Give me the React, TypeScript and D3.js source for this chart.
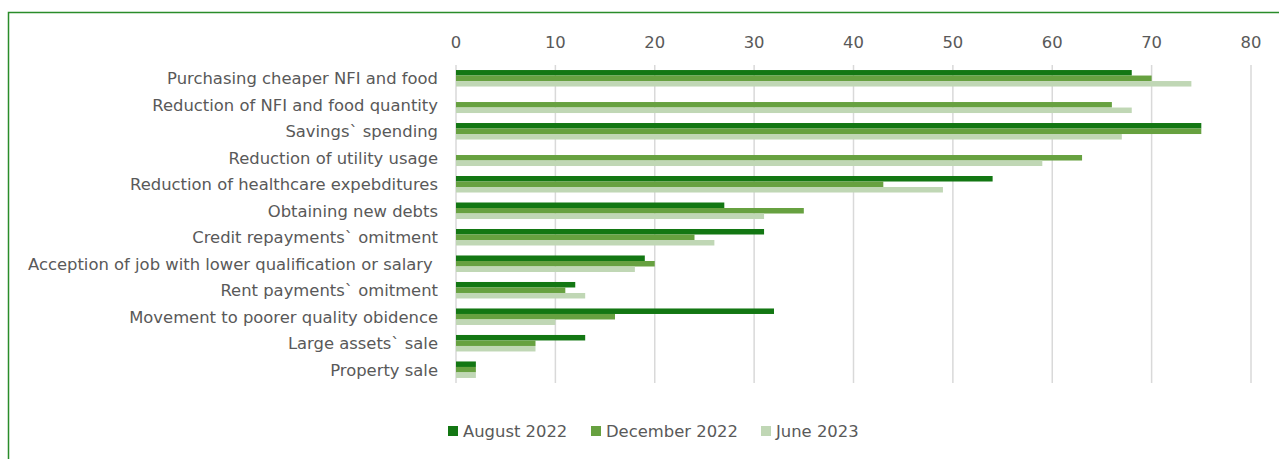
import React from "react";
import * as d3 from "d3";

const categories = [
  "Purchasing cheaper NFI and food",
  "Reduction of NFI and food quantity",
  "Savings` spending",
  "Reduction of utility usage",
  "Reduction of healthcare expebditures",
  "Obtaining new debts",
  "Credit repayments` omitment",
  "Acception of job with lower qualification or salary ",
  "Rent payments` omitment",
  "Movement to poorer quality obidence",
  "Large assets` sale",
  "Property sale",
];
const series = ["August 2022", "December 2022", "June 2023"];
const aug2022 = [68, 0, 75, 0, 54, 27, 31, 19, 12, 32, 13, 2];
const dec2022 = [70, 66, 75, 63, 43, 35, 24, 20, 11, 16, 8, 2];
const jun2023 = [74, 68, 67, 59, 49, 31, 26, 18, 13, 10, 8, 2];
const ticks = [0, 10, 20, 30, 40, 50, 60, 70, 80];
const colors = ["#137713", "#67a140", "#c0d7b5"];

export default function App() {
  const W = 1279, H = 459;
  const x = d3.scaleLinear().domain([0, 80]).range([456, 1251]);
  const y = d3.scaleBand().domain(categories).range([65, 383]).paddingInner(0.377).paddingOuter(0.19);
  const sub = d3.scaleBand().domain(series).range([0, y.bandwidth()]);
  const values = [aug2022, dec2022, jun2023];
  const font = "DejaVu Sans, Verdana, sans-serif";
  const legendX = [448, 591, 761];
  const fs = 16.4;
  return (
    <svg width={W} height={H} style={{ position: "absolute", left: 0, top: 0, background: "#fff" }} fontFamily={font}>
      <rect x={8.5} y={12.5} width={1400} height={600} fill="#fff" stroke="#2a8c2a" strokeWidth={1.5} />
      {ticks.map((t) => (
        <g key={t}>
          <line x1={x(t)} x2={x(t)} y1={65} y2={383} stroke="#d9d9d9" strokeWidth={1.5} />
          <text x={x(t)} y={48} textAnchor="middle" fontSize={fs} fill="#595959">{t}</text>
        </g>
      ))}
      {categories.map((c, i) => (
        <g key={c}>
          <text x={438} y={(y(c) as number) + y.bandwidth() / 2 + 6} textAnchor="end" fontSize={fs} fill="#595959" style={{ whiteSpace: "pre" }}>{c}</text>
          {series.map((s, j) =>
            values[j][i] > 0 ? (
              <rect key={s} x={x(0)} y={(y(c) as number) + (sub(s) as number)} width={x(values[j][i]) - x(0)} height={sub.bandwidth()} fill={colors[j]} />
            ) : null
          )}
        </g>
      ))}
      {series.map((s, j) => (
        <g key={s}>
          <rect x={legendX[j]} y={426} width={10} height={10} fill={colors[j]} />
          <text x={legendX[j] + 15} y={437} fontSize={fs} fill="#595959">{s}</text>
        </g>
      ))}
    </svg>
  );
}
